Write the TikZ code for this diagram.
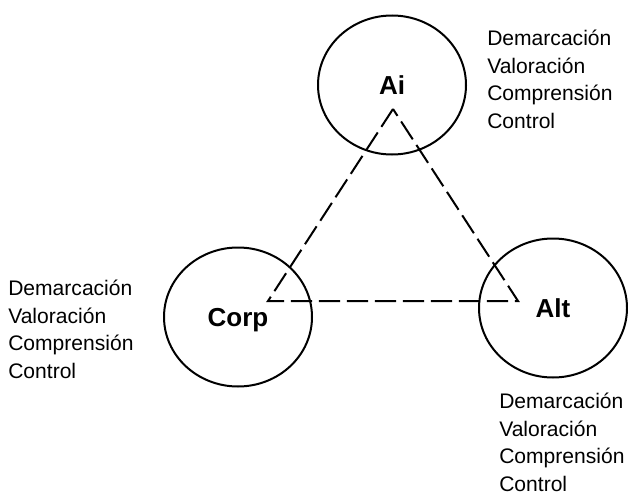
\documentclass[tikz,border=0pt]{standalone}
\usepackage{fontspec}
\setmainfont{Liberation Sans}
\usetikzlibrary{shapes.geometric}

\begin{document}
\begin{tikzpicture}[x=0.75pt, y=-0.75pt]

    % ==========================================
    % VARIABLE DEFINITIONS
    % ==========================================
    \pgfmathsetmacro{\Rx}{148}     % Width of each bubble
    \pgfmathsetmacro{\Ry}{139}     % Height of each bubble
    \pgfmathsetmacro{\Asc}{15}     % First line ascent of the note blocks
    % ==========================================

    \tikzset{
        bubble/.style={draw, ellipse, line width=1.5pt, inner sep=0pt,
            minimum width=\Rx*0.75pt, minimum height=\Ry*0.75pt,
            font=\fontsize{19.5}{21}\bfseries, text depth=0pt},
        notes/.style={anchor=north west, inner sep=0pt, align=left,
            font=\fontsize{15.8}{20.6}\selectfont},
        triangle/.style={line width=1.5pt, dash pattern=on 16pt off 5pt}
    }

    \useasboundingbox (0,0) rectangle (628,496);

    % Bubbles
    \node[bubble] (ai)   at (392, 85)  {Ai};
    \node[bubble] (corp) at (238, 317) {Corp};
    \node[bubble] (alt)  at (553, 308) {Alt};

    % Corners of the dashed triangle
    \coordinate (aiTip)   at (393, 109);
    \coordinate (corpTip) at (268, 301);
    \coordinate (altTip)  at (518, 301);

    \draw[triangle] (aiTip) -- (corpTip) -- (altTip) -- cycle;

    % Notes beside each bubble
    \node[notes] (aiNotes)   at (487, 45-\Asc)
        {Demarcación\\Valoración\\Comprensión\\Control};
    \node[notes] (corpNotes) at (8, 295-\Asc)
        {Demarcación\\Valoración\\Comprensión\\Control};
    \node[notes] (altNotes)  at (499, 408-\Asc)
        {Demarcación\\Valoración\\Comprensión\\Control};

\end{tikzpicture}
\end{document}
